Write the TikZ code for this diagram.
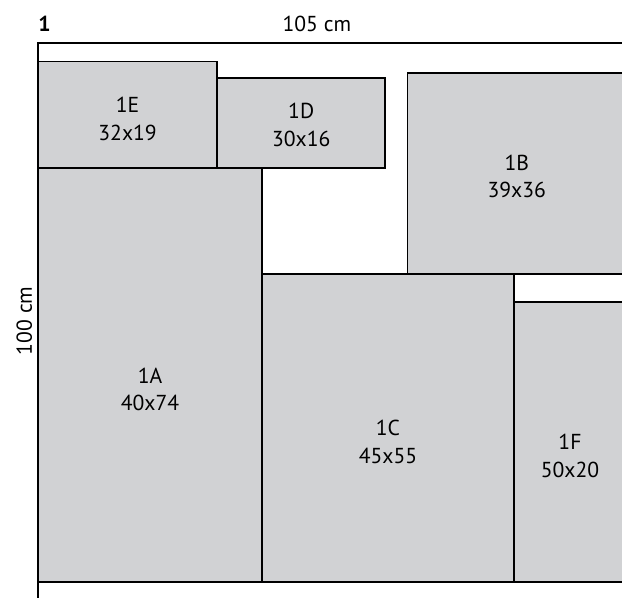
\documentclass[tikz,border=0pt]{standalone}
\usepackage{fontspec}
\setmainfont{PT Sans}
\usetikzlibrary{positioning}
\definecolor{sheetgray}{HTML}{D1D2D4}

\begin{document}
\begin{tikzpicture}[x=1mm,y=-1mm]
\tikzstyle{every node}+=[inner sep=0pt, font=\fontsize{11}{14}\selectfont, align=center]
\tikzstyle{piece}=[draw=black, fill=sheetgray, line width=0.9pt]
\useasboundingbox (-6.79,-7.68) rectangle (104.29,99.11);
\clip (-6.79,-7.68) rectangle (104.29,99.11);
% sheet edges
\draw [black, line width=1pt] (105,0) -- (0,0) -- (0,100);
\node [anchor=base west, font=\fontsize{11}{14}\selectfont\bfseries] (sheet) at (0,-2) {1};
\node [anchor=base] (width) at (49.8,-2) {105 cm};
\node [anchor=base, rotate=90] (height) at (-1.1,49.6) {100 cm};
% pieces
\draw [piece] (0,3.3) rectangle (32,22.3);
\draw [piece] (32,6.3) rectangle (62,22.3);
\draw [piece] (66,5.3) rectangle (105,41.3);
\draw [piece] (0,22.3) rectangle (40,96.3);
\draw [piece] (40,41.3) rectangle (85,96.3);
\draw [piece] (85,46.3) rectangle (105,96.3);
% labels
\node (labE) at (16,13.6) {1E\\32x19};
\node (labD) at (47,14.6) {1D\\30x16};
\node (labB) at (85.5,23.8) {1B\\39x36};
\node (labA) at (20,61.9) {1A\\40x74};
\node (labC) at (62.5,71.2) {1C\\45x55};
\node (labF) at (95,73.7) {1F\\50x20};
\end{tikzpicture}
\end{document}
